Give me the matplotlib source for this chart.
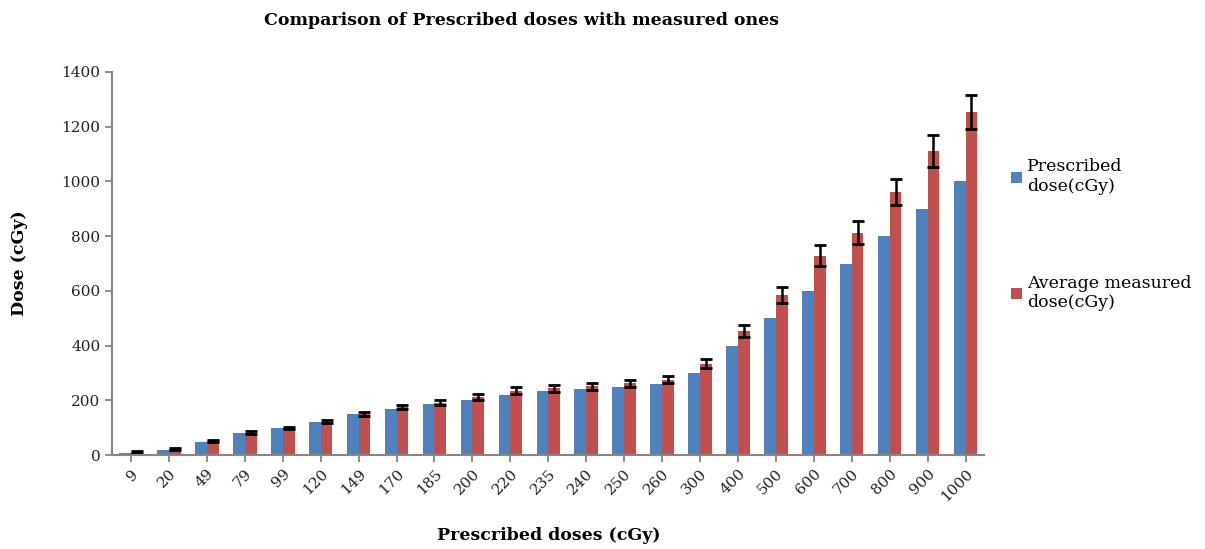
import numpy as np
import matplotlib
matplotlib.use("Agg")
import matplotlib.pyplot as plt

plt.rcParams['font.family'] = ['DejaVu Serif']

# prescribed doses (cGy) and measured averages
categories = ['9', '20', '49', '79', '99', '120', '149', '170', '185', '200', '220', '235',
              '240', '250', '260', '300', '400', '500', '600', '700', '800', '900', '1000']
prescribed = [9, 20, 49, 79, 99, 120, 149, 170, 185, 200, 220, 235,
              240, 250, 260, 300, 400, 500, 600, 700, 800, 900, 1000]
measured = [11, 21, 52, 82, 99, 122, 151, 175, 192, 213, 236, 245,
            252, 262, 276, 334, 454, 585, 728, 812, 962, 1111, 1253]
measured_err = [3, 4, 5, 5, 5, 6, 8, 8, 10, 12, 13, 13,
                13, 14, 14, 17, 23, 28, 38, 42, 48, 58, 62]

blue = '#4f81bd'
red = '#c0504d'

fig = plt.figure(figsize=(12.05, 5.49), dpi=100)
ax = fig.add_axes([0.093, 0.171, 0.724, 0.698])

x = np.arange(len(categories))
w = 0.31
ax.bar(x - w/2, prescribed, w, color=blue, label='Prescribed\ndose(cGy)')
ax.bar(x + w/2, measured, w, color=red, label='Average measured\ndose(cGy)')
ax.errorbar(x + w/2, measured, yerr=measured_err, fmt='none', ecolor='black',
            elinewidth=1.8, capsize=4.5, capthick=2)

ax.set_xlim(-0.5, len(categories) - 0.5)
ax.set_ylim(0, 1400)
ax.set_yticks(range(0, 1401, 200))
ax.set_xticks(x)
ax.set_xticklabels(categories, rotation=45, ha='right', rotation_mode='anchor')

for s in ['top', 'right']:
    ax.spines[s].set_visible(False)
for s in ['left', 'bottom']:
    ax.spines[s].set_color('#868686')
    ax.spines[s].set_linewidth(1.5)
ax.tick_params(axis='both', colors='#868686', width=1.3, length=5, labelsize=11,
               labelcolor='#222222')

ax.set_ylabel('Dose (cGy)', fontsize=12.5, fontweight='bold', labelpad=24)
ax.set_xlabel('Prescribed doses (cGy)', fontsize=12.5, fontweight='bold', labelpad=16)
fig.text(0.433, 0.962, 'Comparison of Prescribed doses with measured ones',
         ha='center', va='center', fontsize=12.5, fontweight='bold')

ax.legend(loc='upper left', bbox_to_anchor=(1.013, 0.815), frameon=False,
          fontsize=12.5, labelspacing=4.6, handlelength=0.6, handleheight=0.6,
          handletextpad=0.3)

fig.savefig('out.png', dpi=100)
